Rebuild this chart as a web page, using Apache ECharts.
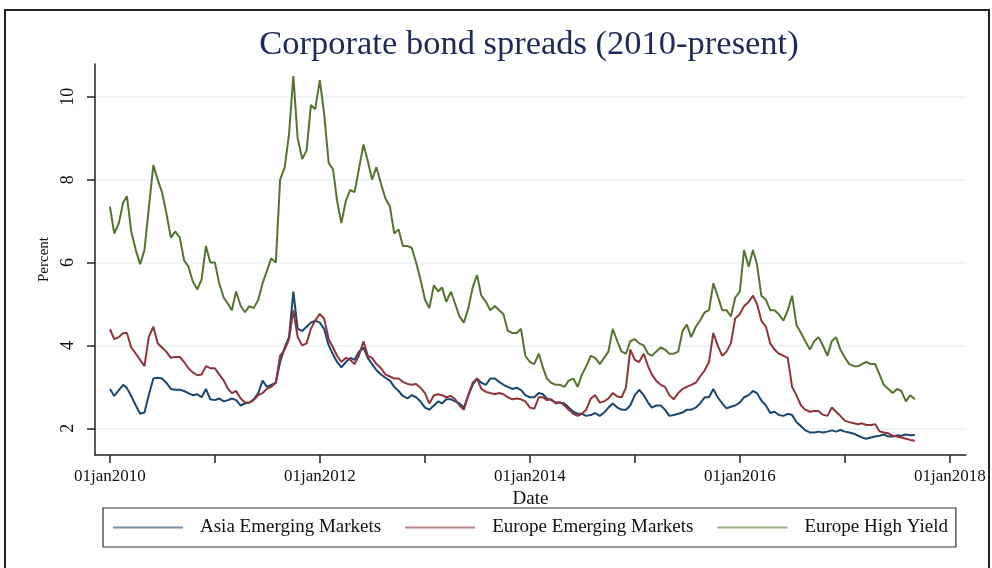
<!DOCTYPE html>
<html>
<head>
<meta charset="utf-8">
<script src="https://cdn.jsdelivr.net/npm/echarts@6/dist/echarts.min.js"></script>
<style>
  html, body { margin: 0; padding: 0; background: #fff; }
  #chart { width: 992px; height: 568px; }
</style>
</head>
<body>
<div id="chart"></div>
<script>
// half-monthly readings (1st and 16th of each month), Jan 2010 - Sep 2017
const asiaEM = [
  2.95, 2.78, 2.92, 3.05, 2.97, 2.78, 2.55, 2.35, 2.38, 2.8,
  3.2, 3.22, 3.2, 3.1, 2.95, 2.93, 2.93, 2.9, 2.85, 2.8,
  2.82, 2.75, 2.95, 2.7, 2.68, 2.72, 2.65, 2.68, 2.72, 2.68,
  2.55, 2.6, 2.62, 2.7, 2.85, 3.15, 3.0, 3.05, 3.1, 3.6,
  3.95, 4.2, 5.3, 4.4, 4.35, 4.45, 4.55, 4.6, 4.55, 4.4,
  4.0, 3.78, 3.6, 3.47, 3.6, 3.7, 3.65, 3.85, 3.95, 3.7,
  3.55, 3.4, 3.3, 3.22, 3.15, 3.0, 2.9, 2.78, 2.72, 2.8,
  2.75, 2.65, 2.5, 2.45, 2.55, 2.65, 2.6, 2.7, 2.7, 2.65,
  2.6, 2.5, 2.8, 3.05, 3.2, 3.1, 3.05, 3.2, 3.2, 3.12,
  3.05, 3.0, 2.95, 2.98, 2.92, 2.8, 2.75, 2.75, 2.85, 2.82,
  2.72, 2.68, 2.62, 2.62, 2.6, 2.5, 2.4, 2.35, 2.35, 2.3,
  2.32, 2.37, 2.3, 2.38, 2.5, 2.6, 2.5, 2.45, 2.45, 2.55,
  2.8, 2.93, 2.8, 2.62, 2.5, 2.55, 2.55, 2.45, 2.3, 2.32,
  2.35, 2.38, 2.45, 2.45, 2.5, 2.6, 2.75, 2.75, 2.95, 2.75,
  2.6, 2.48, 2.52, 2.55, 2.62, 2.75, 2.8, 2.9, 2.85, 2.67,
  2.55, 2.37, 2.4, 2.32, 2.3, 2.35, 2.32, 2.15, 2.05, 1.95,
  1.9, 1.9, 1.92, 1.9, 1.92, 1.95, 1.92, 1.96, 1.92, 1.9,
  1.87, 1.82, 1.78, 1.75, 1.78, 1.8, 1.82, 1.85, 1.8, 1.8,
  1.83, 1.82, 1.85, 1.83, 1.84
]
const europeEM = [
  4.39, 4.15, 4.2, 4.3, 4.3, 3.95, 3.8, 3.65, 3.5, 4.2,
  4.45, 4.05, 3.95, 3.85, 3.7, 3.72, 3.72, 3.6, 3.45, 3.35,
  3.28, 3.3, 3.5, 3.45, 3.45, 3.3, 3.15, 2.95, 2.85, 2.9,
  2.72, 2.62, 2.62, 2.68, 2.8, 2.85, 2.95, 3.0, 3.1, 3.75,
  3.9, 4.15, 4.85, 4.2, 4.0, 4.05, 4.4, 4.6, 4.76, 4.65,
  4.15, 3.95, 3.75, 3.6, 3.7, 3.65, 3.55, 3.75, 4.1, 3.75,
  3.7, 3.55, 3.45, 3.3, 3.25, 3.2, 3.2, 3.12, 3.07, 3.05,
  3.07, 2.98, 2.85, 2.6, 2.8, 2.82, 2.8, 2.75, 2.78, 2.7,
  2.55, 2.45, 2.8, 3.1, 3.2, 2.95, 2.88, 2.85, 2.82, 2.85,
  2.82, 2.75, 2.7, 2.72, 2.7, 2.65, 2.5, 2.47, 2.75, 2.75,
  2.68, 2.7, 2.6, 2.63, 2.55, 2.45, 2.35, 2.3, 2.35, 2.45,
  2.72, 2.8, 2.62, 2.65, 2.72, 2.85, 2.77, 2.75, 2.98, 3.9,
  3.65, 3.6, 3.8, 3.5, 3.3, 3.15, 3.05, 3.0, 2.8, 2.7,
  2.85, 2.95, 3.0, 3.05, 3.1, 3.25, 3.4, 3.6, 4.3, 4.0,
  3.75, 3.85, 4.05, 4.65, 4.75, 4.95, 5.05, 5.2, 5.0, 4.6,
  4.45, 4.05, 3.9, 3.8, 3.75, 3.7, 3.0, 2.8, 2.55, 2.45,
  2.4, 2.42, 2.42, 2.33, 2.3, 2.5, 2.4, 2.3, 2.18, 2.15,
  2.12, 2.1, 2.12, 2.08, 2.08, 2.1, 1.93, 1.9, 1.88, 1.82,
  1.8, 1.78, 1.75, 1.72, 1.7
]
const europeHY = [
  7.35, 6.7, 6.95, 7.45, 7.6, 6.75, 6.3, 5.96, 6.3, 7.3,
  8.35, 8.0, 7.7, 7.2, 6.6, 6.75, 6.6, 6.05, 5.9, 5.55,
  5.35, 5.6, 6.4, 6.0, 6.0, 5.5, 5.15, 5.0, 4.85, 5.3,
  4.95, 4.8, 4.95, 4.9, 5.1, 5.5, 5.8, 6.1, 6.0, 8.0,
  8.3, 9.1, 10.5, 9.0, 8.5, 8.7, 9.8, 9.7, 10.4, 9.6,
  8.4, 8.25, 7.5, 6.95, 7.5, 7.75, 7.7, 8.25, 8.85, 8.45,
  8.0, 8.3, 7.9, 7.55, 7.35, 6.7, 6.8, 6.4, 6.4, 6.35,
  6.0, 5.6, 5.1, 4.9, 5.45, 5.3, 5.4, 5.05, 5.3, 5.0,
  4.7, 4.55, 4.9, 5.4, 5.7, 5.2, 5.05, 4.85, 4.95, 4.85,
  4.75, 4.35, 4.3, 4.3, 4.4, 3.75, 3.6, 3.55, 3.8, 3.45,
  3.2, 3.1, 3.05, 3.05, 3.0, 3.15, 3.2, 3.0, 3.3, 3.5,
  3.75, 3.7, 3.55, 3.7, 3.85, 4.4, 4.1, 3.85, 3.8, 4.1,
  4.15, 4.05, 4.0, 3.8, 3.75, 3.85, 3.95, 3.9, 3.8, 3.8,
  3.85, 4.35, 4.5, 4.2, 4.45, 4.6, 4.8, 4.85, 5.5, 5.2,
  4.85, 4.85, 4.7, 5.15, 5.3, 6.3, 5.9, 6.3, 5.95, 5.2,
  5.1, 4.85, 4.85, 4.75, 4.6, 4.85, 5.2, 4.5, 4.3, 4.1,
  3.9, 4.1, 4.2, 4.0, 3.75, 4.1, 4.2, 3.9, 3.7, 3.55,
  3.5, 3.5, 3.55, 3.6, 3.55, 3.55, 3.3, 3.05, 2.95, 2.85,
  2.95, 2.9, 2.65, 2.8, 2.7
]
const seriesNames = ['Asia Emerging Markets', 'Europe Emerging Markets', 'Europe High Yield']
const seriesColors = ['#1a476f', '#90353b', '#55752f']
const yTicks = [2, 4, 6, 8, 10]
const xTickYears = [2010, 2011, 2012, 2013, 2014, 2015, 2016, 2017, 2018]
const xLabelYears = [2010, 2012, 2014, 2016, 2018]

// sample dates: 1st and 16th of each month from Jan 2010
const dates = []
for (let i = 0; i < asiaEM.length; i++) {
  const y = 2010 + Math.floor(i / 24)
  const m = Math.floor((i % 24) / 2)
  dates.push(new Date(y, m, i % 2 === 0 ? 1 : 16).getTime())
}
const jan1 = (y) => new Date(y, 0, 1).getTime()

const serif = 'Liberation Serif'
const myChart = echarts.init(document.getElementById('chart'))
const option = {
  animation: false,
  backgroundColor: '#fff',
  title: {
    text: 'Corporate bond spreads (2010-present)',
    left: 529,
    top: 27,
    padding: 0,
    textAlign: 'center',
    textStyle: { fontFamily: serif, fontSize: 34.5, fontWeight: 'normal', color: '#1e2b58' },
  },
  graphic: [
    {
      type: 'rect',
      shape: { x: 5, y: 10, width: 984, height: 600 },
      style: { fill: 'none', stroke: '#222', lineWidth: 2 },
      silent: true,
    },
  ],
  legend: {
    left: 103,
    top: 508,
    padding: [10, 8, 10, 10],
    borderColor: '#333',
    borderWidth: 1.2,
    itemWidth: 70,
    itemHeight: 2,
    itemGap: 24,
    icon: 'rect',
    itemStyle: { opacity: 0.6 },
    textStyle: { fontFamily: serif, fontSize: 19, color: '#111', padding: [0, 0, 0, 12] },
    data: seriesNames,
  },
  grid: { left: 95, right: 26, top: 64, bottom: 113, containLabel: false },
  xAxis: {
    type: 'value',
    min: new Date(2009, 10, 10).getTime(),
    max: new Date(2018, 1, 26).getTime(),
    name: 'Date',
    nameLocation: 'middle',
    nameGap: 30,
    nameTextStyle: { fontFamily: serif, fontSize: 19, color: '#111' },
    axisLine: { show: true, lineStyle: { color: '#222', width: 1.5 } },
    axisTick: { show: true, length: 8, lineStyle: { color: '#222', width: 1.5 }, customValues: xTickYears.map(jan1) },
    axisLabel: {
      customValues: xLabelYears.map(jan1),
      margin: 13,
      fontFamily: serif,
      fontSize: 17,
      color: '#111',
      formatter: (v) => '01jan' + new Date(v).getFullYear(),
    },
    splitLine: { show: false },
  },
  yAxis: {
    type: 'value',
    min: 1.356,
    max: 10.79,
    name: 'Percent',
    nameLocation: 'middle',
    nameGap: 36,
    nameTextStyle: { fontFamily: serif, fontSize: 15, color: '#111' },
    axisLine: { show: true, lineStyle: { color: '#222', width: 1.5 } },
    axisTick: { show: true, length: 8, lineStyle: { color: '#222', width: 1.5 }, customValues: yTicks },
    axisLabel: { customValues: yTicks, rotate: 90, margin: 18, fontFamily: serif, fontSize: 18, color: '#111' },
    splitLine: { show: true, lineStyle: { color: '#eaf2f3', width: 1.5 } },
  },
  series: [asiaEM, europeEM, europeHY].map((vals, k) => ({
    name: seriesNames[k],
    type: 'line',
    showSymbol: false,
    color: seriesColors[k],
    lineStyle: { width: 2, color: seriesColors[k] },
    data: vals.map((v, i) => [dates[i], v]),
  })),
}
myChart.setOption(option)
</script>
</body>
</html>
